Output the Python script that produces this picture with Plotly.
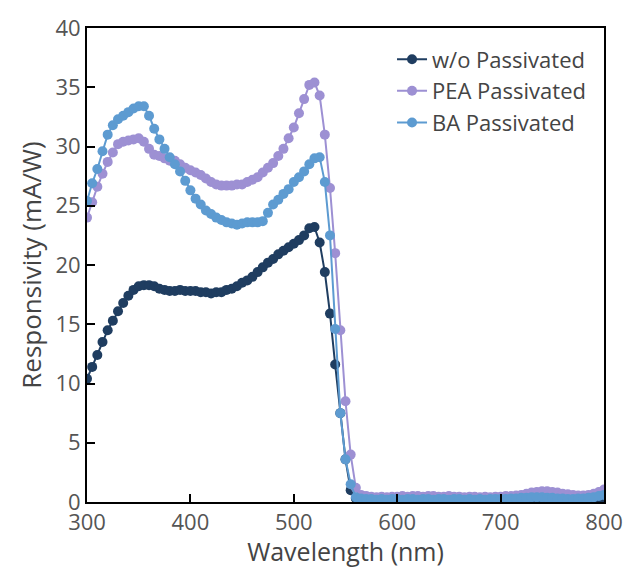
import plotly.graph_objects as go

wavelength = list(range(300, 805, 5))

wo_passivated = [
    10.4, 11.4, 12.4, 13.5, 14.5, 15.3, 16.1, 16.8, 17.4, 17.9,
    18.2, 18.3, 18.3, 18.2, 18.0, 17.9, 17.8, 17.8, 17.9, 17.8,
    17.8, 17.8, 17.7, 17.7, 17.6, 17.7, 17.7, 17.9, 18.0, 18.2,
    18.5, 18.7, 19.0, 19.4, 19.8, 20.2, 20.5, 20.9, 21.2, 21.5,
    21.8, 22.1, 22.5, 23.1, 23.2, 21.9, 19.4, 15.9, 11.6, 7.5,
    3.6, 1.0, 0.3, 0.2, 0.15, 0.2, 0.15, 0.2, 0.15, 0.15,
    0.2, 0.15, 0.15, 0.2, 0.15, 0.15, 0.2, 0.15, 0.15, 0.2,
    0.15, 0.15, 0.2, 0.15, 0.15, 0.2, 0.15, 0.15, 0.15, 0.2,
    0.15, 0.15, 0.2, 0.2, 0.2, 0.25, 0.25, 0.25, 0.25, 0.2,
    0.2, 0.2, 0.15, 0.15, 0.2, 0.2, 0.2, 0.25, 0.25, 0.3,
    0.35,
]

pea_passivated = [
    24.0, 25.3, 26.6, 27.7, 28.7, 29.5, 30.2, 30.4, 30.5, 30.6,
    30.7, 30.4, 29.8, 29.3, 29.2, 29.0, 28.8, 28.8, 28.5, 28.2,
    28.0, 27.8, 27.6, 27.3, 27.0, 26.8, 26.7, 26.7, 26.7, 26.8,
    26.8, 27.0, 27.2, 27.4, 27.8, 28.2, 28.6, 29.2, 29.8, 30.7,
    31.6, 32.8, 34.0, 35.2, 35.4, 34.3, 31.0, 26.5, 21.0, 14.5,
    8.5, 4.0, 1.2, 0.6, 0.5, 0.45, 0.4, 0.45, 0.4, 0.45,
    0.45, 0.5, 0.45, 0.5, 0.5, 0.45, 0.5, 0.5, 0.45, 0.45,
    0.5, 0.45, 0.45, 0.4, 0.45, 0.45, 0.4, 0.45, 0.4, 0.45,
    0.45, 0.5, 0.5, 0.55, 0.6, 0.7, 0.8, 0.85, 0.9, 0.9,
    0.85, 0.8, 0.7, 0.65, 0.6, 0.55, 0.55, 0.6, 0.7, 0.85,
    1.05,
]

ba_passivated = [
    25.4, 26.9, 28.1, 29.6, 31.0, 31.8, 32.3, 32.6, 32.9, 33.2,
    33.4, 33.4, 32.6, 31.5, 30.6, 29.8, 29.1, 28.5, 27.9, 27.1,
    26.3, 25.6, 25.1, 24.6, 24.3, 24.0, 23.8, 23.6, 23.5, 23.4,
    23.5, 23.6, 23.6, 23.6, 23.7, 24.4, 25.1, 25.5, 26.0, 26.4,
    27.0, 27.4, 27.9, 28.5, 29.0, 29.1, 27.0, 22.5, 14.6, 7.5,
    3.6, 1.5, 0.4, 0.3, 0.25, 0.25, 0.2, 0.25, 0.2, 0.25,
    0.25, 0.2, 0.25, 0.25, 0.2, 0.25, 0.25, 0.2, 0.25, 0.25,
    0.2, 0.25, 0.25, 0.2, 0.25, 0.2, 0.25, 0.2, 0.25, 0.25,
    0.25, 0.25, 0.3, 0.3, 0.35, 0.35, 0.4, 0.4, 0.4, 0.35,
    0.35, 0.3, 0.3, 0.25, 0.25, 0.3, 0.3, 0.35, 0.4, 0.5,
    0.6,
]

series = [
    ("w/o Passivated", wo_passivated, "#1f3d60"),
    ("PEA Passivated", pea_passivated, "#9d90d3"),
    ("BA Passivated", ba_passivated, "#5d9bd1"),
]

FONT = "Open Sans"
fig = go.Figure()
for name, vals, color in series:
    fig.add_trace(go.Scatter(
        x=wavelength, y=vals, name=name, mode="lines+markers",
        line=dict(color=color, width=2),
        marker=dict(color=color, size=10),
    ))

axis_common = dict(
    showline=True, linecolor="black", linewidth=2, mirror=True,
    ticks="inside", ticklen=8, tickwidth=2, tickcolor="black",
    showgrid=False, zeroline=False, automargin=False,
    tickfont=dict(family=FONT, size=22, color="#555555"),
)
fig.update_xaxes(range=[300, 800], dtick=100,
                 title=dict(text="Wavelength (nm)", font=dict(family=FONT, size=25, color="#444444"), standoff=6),
                 **axis_common)
fig.update_yaxes(range=[0, 40], dtick=5,
                 title=dict(text="Responsivity (mA/W)", font=dict(family=FONT, size=26, color="#444444"), standoff=6),
                 **axis_common)

fig.update_layout(
    template="none",
    width=629, height=568,
    margin=dict(l=87, r=25, t=28, b=66, pad=0),
    plot_bgcolor="white", paper_bgcolor="white",
    showlegend=True,
    legend=dict(x=0.59, y=0.978, xanchor="left", yanchor="top",
                bgcolor="rgba(0,0,0,0)",
                font=dict(family=FONT, size=22, color="#444444")),
)

fig.write_html("out.html")
